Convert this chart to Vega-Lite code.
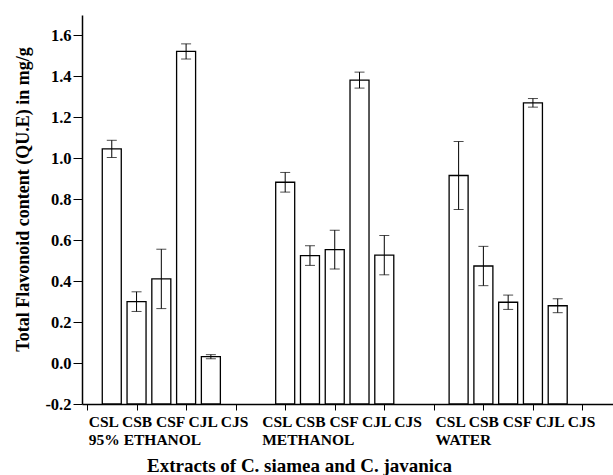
{
  "$schema": "https://vega.github.io/schema/vega-lite/v6.json",
  "width": 531,
  "height": 389,
  "autosize": {"type": "none"},
  "padding": {"left": 82, "top": 15, "right": 0, "bottom": 71},
  "background": "white",
  "config": {"view": {"stroke": null}, "font": "Liberation Serif"},
  "datasets": {
    "bars": [
      {"solvent": "95% ETHANOL", "extract": "CSL", "slot": 1, "value": 1.046, "sd": 0.042},
      {"solvent": "95% ETHANOL", "extract": "CSB", "slot": 2, "value": 0.300, "sd": 0.048},
      {"solvent": "95% ETHANOL", "extract": "CSF", "slot": 3, "value": 0.411, "sd": 0.145},
      {"solvent": "95% ETHANOL", "extract": "CJL", "slot": 4, "value": 1.522, "sd": 0.037},
      {"solvent": "95% ETHANOL", "extract": "CJS", "slot": 5, "value": 0.031, "sd": 0.010},
      {"solvent": "METHANOL", "extract": "CSL", "slot": 8, "value": 0.883, "sd": 0.048},
      {"solvent": "METHANOL", "extract": "CSB", "slot": 9, "value": 0.525, "sd": 0.048},
      {"solvent": "METHANOL", "extract": "CSF", "slot": 10, "value": 0.554, "sd": 0.095},
      {"solvent": "METHANOL", "extract": "CJL", "slot": 11, "value": 1.382, "sd": 0.039},
      {"solvent": "METHANOL", "extract": "CJS", "slot": 12, "value": 0.527, "sd": 0.096},
      {"solvent": "WATER", "extract": "CSL", "slot": 15, "value": 0.916, "sd": 0.166},
      {"solvent": "WATER", "extract": "CSB", "slot": 16, "value": 0.474, "sd": 0.096},
      {"solvent": "WATER", "extract": "CSF", "slot": 17, "value": 0.297, "sd": 0.035},
      {"solvent": "WATER", "extract": "CJL", "slot": 18, "value": 1.271, "sd": 0.021},
      {"solvent": "WATER", "extract": "CJS", "slot": 19, "value": 0.280, "sd": 0.034}
    ],
    "groups": [
      {"solvent": "95% ETHANOL", "start": 1, "codes": "CSL CSB CSF CJL CJS"},
      {"solvent": "METHANOL", "start": 8, "codes": "CSL CSB CSF CJL CJS"},
      {"solvent": "WATER", "start": 15, "codes": "CSL CSB CSF CJL CJS"}
    ]
  },
  "layer": [
    {
      "data": {"name": "bars"},
      "mark": {"type": "bar", "size": 19, "fill": "white", "stroke": "black", "strokeWidth": 1.3},
      "encoding": {
        "x": {
          "field": "slot", "type": "quantitative",
          "scale": {"domain": [0, 21.03], "nice": false, "zero": false},
          "axis": {
            "values": [0,1,2,3,4,5,6,7,8,9,10,11,12,13,14,15,16,17,18,19,20,21],
            "labels": false,
            "grid": false,
            "domainColor": "black",
            "domainWidth": 1.5,
            "tickColor": "black",
            "tickWidth": 1,
            "tickSize": 6,
            "title": "Extracts of C. siamea and C. javanica",
            "titleFont": "Liberation Serif",
            "titleFontSize": 19,
            "titleFontWeight": "bold",
            "titleColor": "black",
            "titleX": 217,
            "titleY": 67,
            "titleAlign": "center",
            "titleBaseline": "alphabetic"
          }
        },
        "y": {
          "field": "value", "type": "quantitative",
          "scale": {"domain": [-0.2, 1.7], "nice": false, "zero": false},
          "axis": {
            "values": [-0.2,-0.1,0,0.1,0.2,0.3,0.4,0.5,0.6,0.7,0.8,0.9,1,1.1,1.2,1.3,1.4,1.5,1.6,1.7],
            "labelExpr": "abs(round(datum.value*10)) % 2 == 0 ? replace(format(datum.value, '.1f'), '\u2212', '-') : ''",
            "grid": false,
            "domainColor": "black",
            "domainWidth": 1.5,
            "tickColor": "black",
            "tickWidth": 1,
            "tickSize": 9,
            "labelFont": "Liberation Serif",
            "labelFontSize": 16.5,
            "labelFontWeight": "bold",
            "labelColor": "black",
            "labelPadding": 2,
            "title": "Total Flavonoid content (QU.E) in mg/g",
            "titleFont": "Liberation Serif",
            "titleFontSize": 18,
            "titleFontWeight": "bold",
            "titleColor": "black",
            "titleX": -54,
            "titleY": 184,
            "titleAlign": "center",
            "titleBaseline": "alphabetic"
          }
        },
        "y2": {"datum": -0.2}
      }
    },
    {
      "data": {"name": "bars"},
      "mark": {"type": "errorbar", "color": "black", "thickness": 1, "ticks": {"size": 10, "thickness": 1, "color": "black"}},
      "encoding": {
        "x": {"field": "slot", "type": "quantitative"},
        "y": {"field": "value", "type": "quantitative", "title": "Total Flavonoid content (QU.E) in mg/g"},
        "yError": {"field": "sd"}
      }
    },
    {
      "data": {"name": "groups"},
      "mark": {"type": "text", "align": "left", "baseline": "alphabetic", "dx": -23, "dy": 23, "font": "Liberation Serif", "fontSize": 15.5, "fontWeight": "bold", "color": "black"},
      "encoding": {
        "x": {"field": "start", "type": "quantitative"},
        "y": {"datum": -0.2},
        "text": {"field": "codes"}
      }
    },
    {
      "data": {"name": "groups"},
      "mark": {"type": "text", "align": "left", "baseline": "alphabetic", "dx": -23, "dy": 41, "font": "Liberation Serif", "fontSize": 15.5, "fontWeight": "bold", "color": "black"},
      "encoding": {
        "x": {"field": "start", "type": "quantitative"},
        "y": {"datum": -0.2},
        "text": {"field": "solvent"}
      }
    }
  ]
}
